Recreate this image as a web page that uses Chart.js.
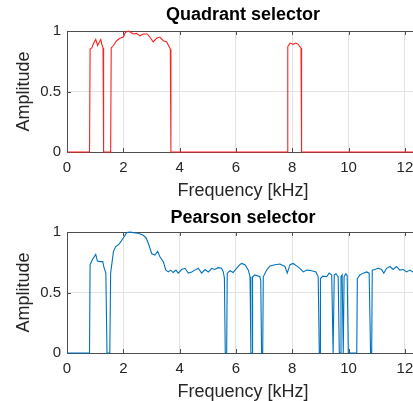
<!DOCTYPE html>
<html lang="en">
<head>
  <meta charset="UTF-8" />
  <title>Quadrant / Pearson selector</title>
  <script src="https://cdn.jsdelivr.net/npm/chart.js@4.4.1/dist/chart.umd.min.js"></script>
  <style>
    html,body{margin:0;padding:0;background:#fff;overflow:hidden;width:413px;height:401px;}
    canvas{position:absolute;left:0;}
    #top{top:0}
    #bot{top:200px}
  </style>
</head>
<body>
  <canvas id="top" width="430" height="200"></canvas>
  <canvas id="bot" width="430" height="201"></canvas>

  <script>
    // Quadrant selector (kHz, amplitude)
    const quadFreq = [0, 0.80, 0.82, 0.88, 0.95, 1.02, 1.09, 1.15, 1.20, 1.25, 1.28, 1.30,
      1.55, 1.57, 1.65, 1.76, 1.88, 2.00, 2.08, 2.18, 2.26, 2.35, 2.47, 2.59, 2.71, 2.85,
      2.97, 3.06, 3.18, 3.30, 3.42, 3.54, 3.63, 3.67, 3.69,
      7.82, 7.84, 7.92, 8.03, 8.13, 8.21, 8.27, 8.31, 8.33, 12.5];
    const quadAmp = [0, 0, 0.85, 0.86, 0.90, 0.93, 0.88, 0.91, 0.93, 0.88, 0.86, 0,
      0, 0.86, 0.88, 0.92, 0.94, 0.95, 0.99, 1.00, 0.99, 0.975, 0.98, 0.96, 0.975, 0.975,
      0.94, 0.91, 0.94, 0.95, 0.92, 0.91, 0.87, 0.85, 0,
      0, 0.87, 0.90, 0.89, 0.90, 0.89, 0.87, 0.86, 0, 0];

    // Pearson selector
    const pearFreq = [0, 0.80, 0.82, 0.90, 1.02, 1.08, 1.17, 1.27, 1.31, 1.38, 1.42,
      1.52, 1.55, 1.65, 1.73, 1.85, 2.00, 2.12, 2.24, 2.35, 2.53, 2.69, 2.80, 2.89,
      3.01, 3.12, 3.22, 3.30, 3.42, 3.51, 3.60, 3.68, 3.77, 3.87, 3.95, 4.07, 4.19,
      4.31, 4.43, 4.54, 4.66, 4.78, 4.90, 5.02, 5.14, 5.25, 5.37, 5.49, 5.55, 5.59,
      5.62, 5.67, 5.69, 5.79, 5.90, 6.02, 6.14, 6.20, 6.32, 6.44, 6.50, 6.53, 6.57,
      6.59, 6.67, 6.85, 6.88, 6.91, 6.95, 6.97, 7.09, 7.21, 7.38, 7.56, 7.74, 7.82,
      7.92, 8.03, 8.15, 8.27, 8.39, 8.51, 8.69, 8.84, 8.92, 8.96, 8.99, 9.00, 9.08,
      9.22, 9.31, 9.40, 9.45, 9.48, 9.49, 9.55, 9.63, 9.67, 9.71, 9.73, 9.77, 9.81,
      9.83, 9.84, 9.90, 9.95, 9.99, 10.29, 10.31, 10.40, 10.52, 10.64, 10.73, 10.78,
      10.82, 10.84, 10.93, 11.05, 11.17, 11.25, 11.35, 11.47, 11.58, 11.70, 11.82,
      11.94, 12.06, 12.18, 12.27, 12.40, 12.50];
    const pearAmp = [0, 0, 0.73, 0.77, 0.815, 0.76, 0.755, 0.755, 0.71, 0.66, 0,
      0, 0.66, 0.84, 0.88, 0.90, 0.95, 0.995, 1.00, 0.995, 0.99, 0.975, 0.955, 0.905,
      0.82, 0.81, 0.84, 0.795, 0.755, 0.685, 0.67, 0.685, 0.665, 0.685, 0.66, 0.69, 0.70,
      0.66, 0.67, 0.685, 0.70, 0.66, 0.69, 0.67, 0.70, 0.69, 0.705, 0.70, 0.67, 0.62,
      0, 0, 0.66, 0.68, 0.665, 0.70, 0.73, 0.74, 0.73, 0.685, 0.63, 0, 0,
      0.63, 0.645, 0.63, 0.60, 0, 0, 0.63, 0.685, 0.72, 0.73, 0.735, 0.715, 0.66,
      0.73, 0.74, 0.72, 0.70, 0.67, 0.685, 0.68, 0.67, 0.63, 0, 0, 0.615, 0.635,
      0.63, 0.66, 0.645, 0, 0, 0.645, 0.655, 0.63, 0, 0, 0.63, 0.645, 0,
      0, 0.63, 0.655, 0.64, 0, 0, 0.615, 0.645, 0.66, 0.67, 0.66, 0,
      0, 0.685, 0.69, 0.70, 0.69, 0.66, 0.70, 0.715, 0.69, 0.715, 0.685,
      0.69, 0.67, 0.685, 0.67, 0.69, 0.68];

    const xTicks = [0, 2, 4, 6, 8, 10, 12];
    const yTicks = [0, 0.5, 1];

    const FONT = "'Liberation Sans', Arial, sans-serif";
    const INK = '#262626';

    // MATLAB-ish axes box with inward ticks
    const boxPlugin = {
      id: 'box',
      beforeDatasetsDraw(chart){
        const {ctx, chartArea:a, scales:{x, y}} = chart;
        ctx.save();
        ctx.strokeStyle = '#4d4d4d';
        ctx.lineWidth = 1;
        ctx.strokeRect(a.left + .5, a.top + .5, a.right - a.left, a.bottom - a.top);
        ctx.beginPath();
        x.ticks.forEach(t=>{
          const px = Math.round(x.getPixelForValue(t.value)) + .5;
          ctx.moveTo(px, a.bottom); ctx.lineTo(px, a.bottom - 4);
          ctx.moveTo(px, a.top); ctx.lineTo(px, a.top + 4);
        });
        y.ticks.forEach(t=>{
          const py = Math.round(y.getPixelForValue(t.value)) + .5;
          ctx.moveTo(a.left, py); ctx.lineTo(a.left + 4, py);
        });
        ctx.stroke();
        ctx.restore();
      }
    };

    function makeChart(id, title, xs, ys, color, titlePad){
      return new Chart(document.getElementById(id), {
        type: 'line',
        data: {
          datasets: [{
            data: xs.map((v, i) => ({x: v, y: ys[i]})),
            borderColor: color, borderWidth: 1.1,
            pointRadius: 0, tension: 0, fill: false, clip: false
          }]
        },
        options: {
          responsive: false, animation: false,
          layout: {padding: {left: 0, right: 11, top: 0, bottom: 0}},
          plugins: {
            legend: {display: false},
            tooltip: {enabled: false},
            title: {
              display: true, text: title, fullSize: false, color: '#000',
              font: {family: FONT, size: 18, weight: 'bold', lineHeight: 1.2},
              padding: titlePad
            }
          },
          scales: {
            x: {
              type: 'linear', min: 0, max: 12.5,
              afterBuildTicks: s => { s.ticks = xTicks.map(v => ({value: v})); },
              afterFit: s => { s.height = 48; },
              grid: {color: '#e3e3e3', drawTicks: false},
              border: {display: false},
              ticks: {color: INK, padding: 7, maxRotation: 0,
                      font: {family: FONT, size: 15}},
              title: {display: true, text: 'Frequency [kHz]', color: INK,
                      font: {family: FONT, size: 18, lineHeight: 1},
                      padding: {top: 0, bottom: 0}}
            },
            y: {
              min: 0, max: 1,
              afterBuildTicks: s => { s.ticks = yTicks.map(v => ({value: v})); },
              afterFit: s => { s.width = 67; },
              grid: {color: '#e3e3e3', drawTicks: false},
              border: {display: false},
              ticks: {color: INK, padding: 6, callback: v => String(v),
                      font: {family: FONT, size: 15}},
              title: {display: true, text: 'Amplitude', color: INK,
                      font: {family: FONT, size: 18, lineHeight: 1},
                      padding: {top: 15, bottom: 0}}
            }
          }
        },
        plugins: [boxPlugin]
      });
    }

    makeChart('top', 'Quadrant selector', quadFreq, quadAmp, '#ff2020', {top: 4, bottom: 5.4});
    makeChart('bot', 'Pearson selector', pearFreq, pearAmp, '#0072bd', {top: 7, bottom: 3.4});
  </script>
</body>
</html>
